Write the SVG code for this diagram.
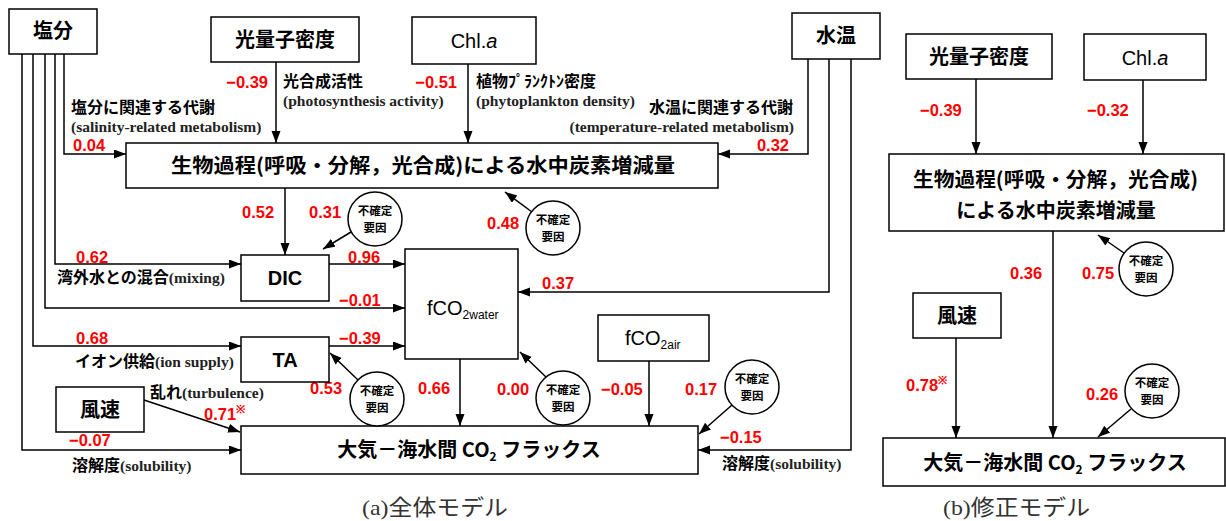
<svg xmlns="http://www.w3.org/2000/svg" width="1226" height="521" viewBox="0 0 1226 521">
<defs>
<marker id="ah" markerUnits="userSpaceOnUse" markerWidth="13" markerHeight="10" refX="12" refY="4.5" orient="auto">
<path d="M0,0 L12,4.5 L0,9 z" fill="#000"/>
</marker>
<style>
.box{fill:#fff;stroke:#000;stroke-width:1.5}
.cir{fill:#fff;stroke:#000;stroke-width:1.5}
.ln{fill:none;stroke:#000;stroke-width:1.5}
.ar{fill:none;stroke:#000;stroke-width:1.5;marker-end:url(#ah)}
.jp{font-family:"Noto Sans CJK JP",sans-serif;font-weight:700;fill:#000}
.j16{font-size:16px}
.j20{font-size:20px}
.en{font-family:"Liberation Serif",serif;font-weight:700;font-size:15.5px;fill:#222}
.num{font-family:"Liberation Sans",sans-serif;font-weight:700;font-size:16.5px;fill:#f00}
.sm{font-family:"Noto Sans CJK JP",sans-serif;font-weight:700;font-size:11.5px;fill:#000}
.lat{font-family:"Liberation Sans",sans-serif;font-size:20px;fill:#000}
.cap{font-family:"Liberation Serif","Noto Sans CJK JP",serif;font-size:22px;fill:#333}
</style>
</defs>
<rect width="1226" height="521" fill="#fff"/>

<g id="connectors">
<path class="ar" d="M64,54 V154 H126"/>
<path class="ar" d="M55,54 V264 H241"/>
<path class="ar" d="M45,54 V308 H405"/>
<path class="ar" d="M33,54 V346 H241"/>
<path class="ar" d="M22,54 V450 H241"/>
<path class="ar" d="M808,59 V154 H718"/>
<path class="ar" d="M829,59 V292 H518"/>
<path class="ar" d="M851,59 V450 H698"/>
<path class="ar" d="M276,62 V143"/>
<path class="ar" d="M468,64 V143"/>
<path class="ar" d="M285,188 V255"/>
<path class="ar" d="M329,264 H405"/>
<path class="ar" d="M329,346 H405"/>
<path class="ar" d="M460,359 V426"/>
<path class="ar" d="M649,361 V426"/>
<path class="ar" d="M144,400 L240,432"/>
<path class="ar" d="M351,232 L323,249"/>
<path class="ar" d="M532,212 L505,192"/>
<path class="ar" d="M358,380 L330,353"/>
<path class="ar" d="M546,377 L520,352"/>
<path class="ar" d="M732,405 L699,434"/>
<path class="ar" d="M976,79 V154"/>
<path class="ar" d="M1143,80 V154"/>
<path class="ar" d="M1053,231 V438"/>
<path class="ar" d="M956,338 V438"/>
<path class="ar" d="M1124,253 L1098,235"/>
<path class="ar" d="M1131,409 L1098,437"/>
</g>

<g id="labels">
<text class="num" x="268" y="88" text-anchor="end">−0.39</text>
<text class="num" x="73" y="151">0.04</text>
<text class="num" x="457" y="88" text-anchor="end">−0.51</text>
<text class="num" x="789" y="151" text-anchor="end">0.32</text>
<text class="num" x="242" y="218">0.52</text>
<text class="num" x="309" y="218">0.31</text>
<text class="num" x="487" y="229">0.48</text>
<text class="num" x="76" y="263">0.62</text>
<text class="num" x="348" y="263">0.96</text>
<text class="num" x="339" y="306">−0.01</text>
<text class="num" x="542" y="289">0.37</text>
<text class="num" x="76" y="344">0.68</text>
<text class="num" x="339" y="344">−0.39</text>
<text class="num" x="310" y="394">0.53</text>
<text class="num" x="418" y="394">0.66</text>
<text class="num" x="497" y="395">0.00</text>
<text class="num" x="601" y="395">−0.05</text>
<text class="num" x="685" y="395">0.17</text>
<text class="num" x="204" y="420">0.71<tspan font-size="11px" dy="-7">※</tspan></text>
<text class="num" x="69" y="446">−0.07</text>
<text class="num" x="720" y="443">−0.15</text>
<text class="num" x="920" y="116">−0.39</text>
<text class="num" x="1087" y="116">−0.32</text>
<text class="num" x="1010" y="279">0.36</text>
<text class="num" x="1082" y="279">0.75</text>
<text class="num" x="906" y="391">0.78<tspan font-size="11px" dy="-7">※</tspan></text>
<text class="num" x="1086" y="400">0.26</text>

<text class="jp j16" x="71" y="113">塩分に関連する代謝</text>
<text class="en" x="71" y="132">(salinity-related metabolism)</text>
<text class="jp j16" x="283" y="87">光合成活性</text>
<text class="en" x="283" y="106">(photosynthesis activity)</text>
<text class="jp j16" x="476" y="87">植物ﾌﾟﾗﾝｸﾄﾝ密度</text>
<text class="en" x="476" y="106">(phytoplankton density)</text>
<text class="jp j16" x="793" y="113" text-anchor="end">水温に関連する代謝</text>
<text class="en" x="794" y="132" text-anchor="end">(temperature-related metabolism)</text>
<text x="57" y="283"><tspan class="jp j16">湾外水との混合</tspan><tspan class="en">(mixing)</tspan></text>
<text x="75" y="367"><tspan class="jp j16">イオン供給</tspan><tspan class="en">(ion supply)</tspan></text>
<text x="150" y="398"><tspan class="jp j16">乱れ</tspan><tspan class="en">(turbulence)</tspan></text>
<text x="72" y="471"><tspan class="jp j16">溶解度</tspan><tspan class="en">(solubility)</tspan></text>
<text x="722" y="469"><tspan class="jp j16">溶解度</tspan><tspan class="en">(solubility)</tspan></text>

<text class="cap" x="362" y="515" textLength="146" lengthAdjust="spacingAndGlyphs">(a)全体モデル</text>
<text class="cap" x="943" y="515" textLength="147" lengthAdjust="spacingAndGlyphs">(b)修正モデル</text>
</g>

<g id="n-salinity"><rect class="box" x="9" y="9" width="88" height="45"/><text class="jp j20" x="53" y="38" text-anchor="middle">塩分</text></g>
<g id="n-ppfd"><rect class="box" x="211" y="17" width="148" height="45"/><text class="jp j20" x="285" y="47" text-anchor="middle">光量子密度</text></g>
<g id="n-chla"><rect class="box" x="412" y="17" width="124" height="47"/><text class="lat" x="474" y="48" text-anchor="middle">Chl.<tspan font-style="italic">a</tspan></text></g>
<g id="n-temp"><rect class="box" x="792" y="13" width="88" height="46"/><text class="jp j20" x="836" y="43" text-anchor="middle">水温</text></g>
<g id="n-bio"><rect class="box" x="126" y="143" width="592" height="45"/><text class="jp j20" x="171" y="173" textLength="504" lengthAdjust="spacingAndGlyphs">生物過程(呼吸・分解，光合成)による水中炭素増減量</text></g>
<g id="n-dic"><rect class="box" x="241" y="255" width="88" height="46"/><text class="lat" x="285" y="285" text-anchor="middle" font-weight="700">DIC</text></g>
<g id="n-ta"><rect class="box" x="241" y="337" width="88" height="45"/><text class="lat" x="285" y="367" text-anchor="middle" font-weight="700">TA</text></g>
<g id="n-fco2w"><rect class="box" x="405" y="249" width="113" height="110"/><text class="lat" x="427" y="315">fCO<tspan font-size="12px" dy="4">2water</tspan></text></g>
<g id="n-fco2a"><rect class="box" x="598" y="315" width="111" height="46"/><text class="lat" x="625" y="345">fCO<tspan font-size="12px" dy="4">2air</tspan></text></g>
<g id="n-wind"><rect class="box" x="56" y="387" width="88" height="45"/><text class="jp j20" x="100" y="417" text-anchor="middle">風速</text></g>
<g id="n-flux"><rect class="box" x="241" y="426" width="457" height="48"/><text class="jp j20" x="469" y="457" text-anchor="middle">大気－海水間 CO<tspan font-size="12px" dy="4">2</tspan><tspan dy="-4"> フラックス</tspan></text></g>

<g id="u-dic"><circle class="cir" cx="375" cy="219" r="27"/><text class="sm" x="375" y="215" text-anchor="middle">不確定</text><text class="sm" x="375" y="232" text-anchor="middle">要因</text></g>
<g id="u-bio"><circle class="cir" cx="553" cy="228" r="27"/><text class="sm" x="553" y="224" text-anchor="middle">不確定</text><text class="sm" x="553" y="241" text-anchor="middle">要因</text></g>
<g id="u-ta"><circle class="cir" cx="377" cy="399" r="27"/><text class="sm" x="377" y="395" text-anchor="middle">不確定</text><text class="sm" x="377" y="412" text-anchor="middle">要因</text></g>
<g id="u-fco2"><circle class="cir" cx="563" cy="398" r="27"/><text class="sm" x="563" y="394" text-anchor="middle">不確定</text><text class="sm" x="563" y="411" text-anchor="middle">要因</text></g>
<g id="u-flux"><circle class="cir" cx="752" cy="387" r="27"/><text class="sm" x="752" y="383" text-anchor="middle">不確定</text><text class="sm" x="752" y="400" text-anchor="middle">要因</text></g>

<g id="b-ppfd"><rect class="box" x="906" y="34" width="146" height="45"/><text class="jp j20" x="979" y="64" text-anchor="middle">光量子密度</text></g>
<g id="b-chla"><rect class="box" x="1084" y="34" width="122" height="46"/><text class="lat" x="1145" y="65" text-anchor="middle">Chl.<tspan font-style="italic">a</tspan></text></g>
<g id="b-bio"><rect class="box" x="889" y="154" width="335" height="77"/><text class="jp j20" x="913" y="187" textLength="285" lengthAdjust="spacingAndGlyphs">生物過程(呼吸・分解，光合成)</text><text class="jp j20" x="1056" y="218" text-anchor="middle">による水中炭素増減量</text></g>
<g id="b-wind"><rect class="box" x="913" y="293" width="88" height="45"/><text class="jp j20" x="957" y="323" text-anchor="middle">風速</text></g>
<g id="b-flux"><rect class="box" x="883" y="438" width="342" height="48"/><text class="jp j20" x="1055" y="470" text-anchor="middle">大気－海水間 CO<tspan font-size="12px" dy="4">2</tspan><tspan dy="-4"> フラックス</tspan></text></g>
<g id="b-u1"><circle class="cir" cx="1146" cy="269" r="27"/><text class="sm" x="1146" y="265" text-anchor="middle">不確定</text><text class="sm" x="1146" y="282" text-anchor="middle">要因</text></g>
<g id="b-u2"><circle class="cir" cx="1152" cy="391" r="27"/><text class="sm" x="1152" y="387" text-anchor="middle">不確定</text><text class="sm" x="1152" y="404" text-anchor="middle">要因</text></g>
</svg>
